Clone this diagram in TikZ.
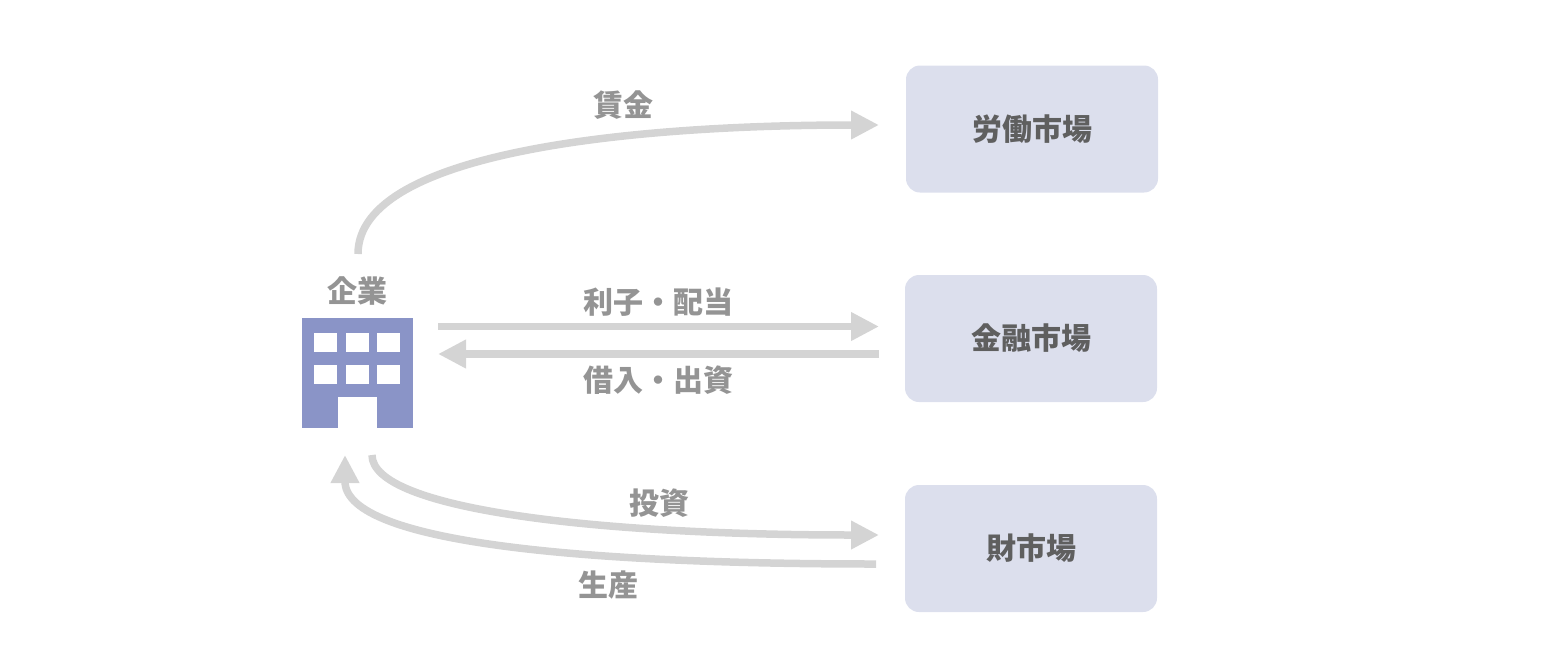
\documentclass[tikz,border=0pt]{standalone}
\usepackage{fontspec}
\newfontfamily\cjk{Noto Sans CJK JP}
\usetikzlibrary{arrows.meta}
\definecolor{boxfill}{HTML}{DCDFED}
\definecolor{boxtext}{HTML}{5F5F5F}
\definecolor{labeltext}{HTML}{949494}
\definecolor{flow}{HTML}{D4D4D4}
\definecolor{building}{HTML}{8A94C7}

\begin{document}
\begin{tikzpicture}[
        x=1pt,y=-1pt,
        arrow/.style={flow,line width=7.5pt},
        tip/.style={-{Triangle[length=28pt,width=27pt,flow]}},
        market/.style={rounded corners=14pt,fill=boxfill,minimum width=252pt,minimum height=127pt,
            text=boxtext,font=\cjk\bfseries\fontsize{30}{34}\selectfont},
        caption/.style={text=labeltext,font=\cjk\bfseries\fontsize{30}{34}\selectfont},
        window/.style={fill=white,minimum width=23.5pt,minimum height=19.5pt,inner sep=0pt},
    ]
        \useasboundingbox (0,0) rectangle (1547,665);

        % markets
        \node (labor)   at (1032,129) [market] {労働市場};
        \node (finance) at (1031,338.5) [market] {金融市場};
        \node (goods)   at (1031,548.5) [market] {財市場};

        % firm
        \node (firm) at (357.3,373) [fill=building,minimum size=110.5pt,inner sep=0pt] {};
        \foreach \col/\xpos in {1/325.7,2/357.4,3/388.7} {
            \node (win a\col) at (\xpos,342.5) [window] {};
            \node (win b\col) at (\xpos,374.5) [window] {};
        }
        \node (door) at (357.5,412.5) [fill=white,minimum width=39pt,minimum height=32pt,inner sep=0pt] {};
        \node (firm name) at (357.5,291) [caption] {企業};

        % free ends
        \coordinate (firm top)  at (358,254);
        \coordinate (firm r)    at (438,326.5);
        \coordinate (firm l)    at (438,354);
        \coordinate (firm in)   at (345,455);
        \coordinate (firm out)  at (372,455);
        \coordinate (labor in)  at (879,125);
        \coordinate (fin in)    at (879,326.5);
        \coordinate (fin out)   at (879,354);
        \coordinate (goods in)  at (879,535);
        \coordinate (goods out) at (876,564);

        % flows
        \draw[arrow,tip] (firm top) .. controls (358,150) and (640,125) .. (labor in);
        \draw[arrow,tip] (firm r) -- (fin in);
        \draw[arrow,tip] (fin out) -- (firm l);
        \draw[arrow,tip] (firm out) .. controls (372,510) and (600,535) .. (goods in);
        \draw[arrow,tip] (goods out) .. controls (600,564) and (345,545) .. (firm in);

        % labels
        \node (wage)     at (623.5,105) [caption] {賃金};
        \node (interest) at (658.5,302) [caption] {利子・配当};
        \node (loan)     at (658.5,380) [caption] {借入・出資};
        \node (invest)   at (659,503) [caption] {投資};
        \node (product)  at (608,585) [caption] {生産};
    \end{tikzpicture}
\end{document}
